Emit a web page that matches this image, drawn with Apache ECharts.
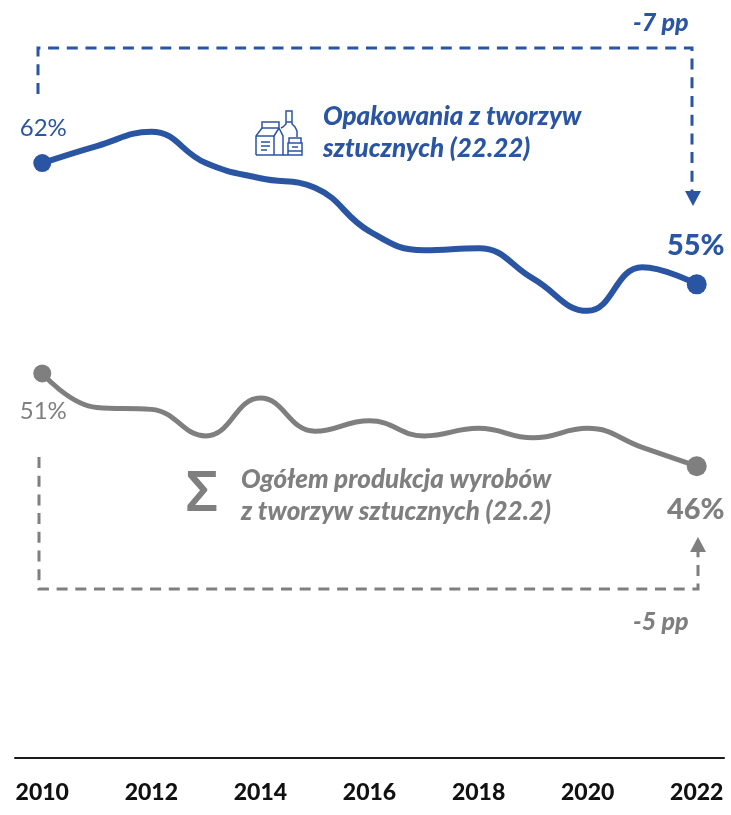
<!DOCTYPE html>
<html><head><meta charset="utf-8">
<style>html,body{margin:0;padding:0;background:#fff}#c{width:731px;height:815px}</style>
<script src="https://cdn.jsdelivr.net/npm/echarts@6/dist/echarts.min.js"></script>
</head><body><div id="c"></div>
<script>
const years = ['2010','2011','2012','2013','2014','2015','2016','2017','2018','2019','2020','2021','2022'];
const packaging = [62,62.9,63.65,62,61.2,60.7,58.4,57.4,57.5,55.9,54.2,56.5,55.6];
const total = [50.9,49.1,49,47.6,49.6,47.85,48.4,47.6,48,47.5,48,47,46];
const packagingEnds = ['62%','55%'];
const totalEnds = ['51%','46%'];
const BLUE = '#2A55A3', GRAY = '#7F7F7F', FONT = 'Lato, Carlito, sans-serif';

function points(values, color, ends, startOffset, endOffset) {
  return values.map((v, i) => {
    const first = i === 0, last = i === values.length - 1;
    if (!first && !last) return { value: v, symbol: 'none' };
    return {
      value: v, symbol: 'circle', symbolSize: first ? 18 : 20,
      itemStyle: { color },
      label: {
        show: true, position: 'inside', color,
        formatter: first ? ends[0] : ends[1],
        offset: first ? startOffset : endOffset,
        fontFamily: FONT,
        fontSize: first ? 24 : 29,
        fontWeight: first ? 'normal' : 900
      }
    };
  });
}
function line(name, values, color, width, ends, a, b) {
  return {
    name, type: 'line', data: points(values, color, ends, a, b), smooth: 0.45,
    showAllSymbol: true, lineStyle: { color, width }, itemStyle: { color },
    animation: false, silent: true
  };
}
function txt(x, y, text, color, size) {
  return { type: 'text', x, y, silent: true, style: {
    text, fill: color, font: `italic 900 ${size}px ${FONT}`, verticalAlign: 'middle'
  } };
}
function dash(points, color) {
  return { type: 'polyline', silent: true, shape: { points },
    style: { stroke: color, fill: null, lineWidth: 3, lineDash: [11, 7.7] } };
}
function tri(points, color) {
  return { type: 'polygon', silent: true, shape: { points }, style: { fill: color } };
}
function stroke(points) {
  return { type: 'polyline', silent: true, shape: { points },
    style: { stroke: BLUE, fill: null, lineWidth: 1.5 } };
}
const icon = [
  [[256,155],[256,136],[262,128],[262,122],[279,122],[279,128],[283,136],[283,155],[256,155]],
  [[262,128],[279,128]], [[256,136],[274,136],[274,155]], [[274,136],[279,128]],
  [[261,142],[270,142]], [[261,146],[270,146]], [[261,150],[267,150]],
  [[281,128],[283,127],[286,124],[286,111],[292,111],[292,124],[295,127],[297,131],[297,137]],
  [[286,122],[292,122]], [[283,155],[288,155]],
  [[288,155],[288,143],[302,143],[302,155],[288,155]], [[289,143],[289,138],[301,138],[301,143]],
  [[288,151],[302,151]], [[292,147],[298,147]]
];

const chart = echarts.init(document.getElementById('c'), null, { renderer: 'canvas' });
chart.setOption({
  animation: false,
  grid: { left: 15, right: 7, top: 11.5, bottom: 57 },
  xAxis: {
    type: 'category', data: years, boundaryGap: true,
    axisLine: { lineStyle: { color: '#1a1a1a', width: 2 } },
    axisTick: { show: false },
    axisLabel: { interval: 1, color: '#111', fontFamily: FONT, fontWeight: 900, fontSize: 23, margin: 23 }
  },
  yAxis: { type: 'value', min: 30.6, max: 70, show: false, splitLine: { show: false } },
  series: [
    line('Opakowania z tworzyw sztucznych (22.22)', packaging, BLUE, 6, packagingEnds, [1, -35], [-1, -39]),
    line('Ogółem produkcja wyrobów z tworzyw sztucznych (22.2)', total, GRAY, 5, totalEnds, [1, 38], [-1, 43])
  ],
  graphic: [
    dash([[38,94],[38,48],[692,48],[692,192]], BLUE),
    tri([[685,191],[701,191],[693,206]], BLUE),
    dash([[39,457],[39,589],[698,589],[698,552]], GRAY),
    tri([[690,552],[706,552],[698,537]], GRAY),
    txt(633, 23, '-7 pp', BLUE, 25),
    txt(633, 622, '-5 pp', GRAY, 25),
    txt(323, 117, 'Opakowania z tworzyw', BLUE, 26),
    txt(323, 149, 'sztucznych (22.22)', BLUE, 26),
    txt(241, 480, 'Ogółem produkcja wyrobów', GRAY, 26),
    txt(241, 512, 'z tworzyw sztucznych (22.2)', GRAY, 26),
    { type: 'text', x: 202, y: 495, silent: true, style: { text: 'Σ', fill: GRAY,
      font: '600 56px "Noto Sans", sans-serif', align: 'center', verticalAlign: 'middle' } }
  ].concat(icon.map(stroke))
});
</script></body></html>
